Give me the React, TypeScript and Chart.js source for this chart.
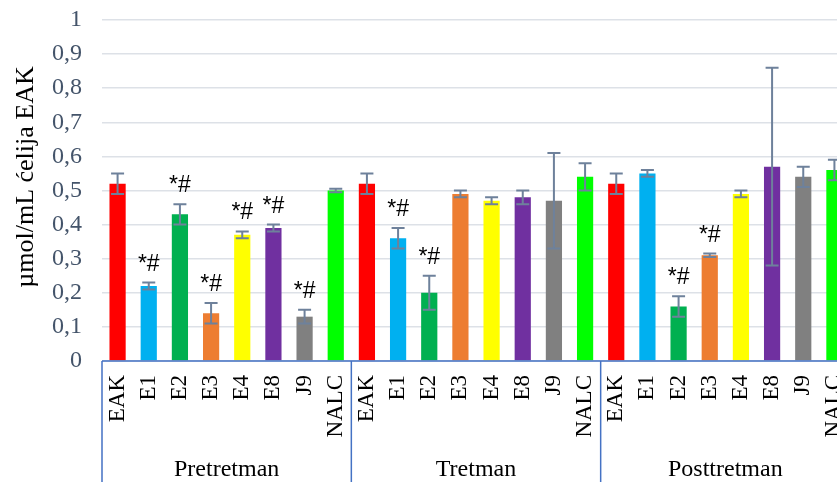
import { useEffect, useRef } from "react";
import { Chart, registerables } from "chart.js";

Chart.register(...registerables);

// Compounds measured in each phase
const categories = ["EAK", "E1", "E2", "E3", "E4", "E8", "J9", "NALC"];
const groups = ["Pretretman", "Tretman", "Posttretman"];
const barColors = ["#ff0000", "#00b0f0", "#00b050", "#ed7d31", "#ffff00", "#7030a0", "#808080", "#00ff00"];

// Mean values (µmol/mL ćelija EAK)
const pretretman = [0.52, 0.22, 0.43, 0.14, 0.37, 0.39, 0.13, 0.5];
const tretman = [0.52, 0.36, 0.2, 0.49, 0.47, 0.48, 0.47, 0.54];
const posttretman = [0.52, 0.55, 0.16, 0.31, 0.49, 0.57, 0.54, 0.56];

// Standard deviations
const pretretmanErr = [0.03, 0.01, 0.03, 0.03, 0.01, 0.01, 0.02, 0.005];
const tretmanErr = [0.03, 0.03, 0.05, 0.01, 0.01, 0.02, 0.14, 0.04];
const posttretmanErr = [0.03, 0.01, 0.03, 0.005, 0.01, 0.29, 0.03, 0.03];

// Significance markers (*# above the bar)
const pretretmanSig = [false, true, true, true, true, true, true, false];
const tretmanSig = [false, true, true, false, false, false, false, false];
const posttretmanSig = [false, false, true, true, false, false, false, false];

const yTitle = "µmol/mL ćelija EAK";
const sigText = "*#";

const labels = groups.flatMap(() => categories);
const values = [...pretretman, ...tretman, ...posttretman];
const errors = [...pretretmanErr, ...tretmanErr, ...posttretmanErr];
const sig = [...pretretmanSig, ...tretmanSig, ...posttretmanSig];
const colors = groups.flatMap(() => barColors);

const SERIF = "'Liberation Serif', 'Times New Roman', serif";
const SANS = "'Liberation Sans', Arial, sans-serif";

const overlay = {
  id: "overlay",
  afterDatasetsDraw(chart: any) {
    const ctx = chart.ctx;
    const y = chart.scales.y;
    const meta = chart.getDatasetMeta(0);
    ctx.save();
    ctx.strokeStyle = "#6e819b";
    ctx.lineWidth = 2;
    ctx.font = `23px ${SANS}`;
    ctx.fillStyle = "#000";
    ctx.textAlign = "center";
    ctx.textBaseline = "alphabetic";
    values.forEach((v, i) => {
      const bar = meta.data[i];
      const cx = bar.x;
      const top = y.getPixelForValue(v + errors[i]);
      const bot = y.getPixelForValue(v - errors[i]);
      const cap = 6.5;
      ctx.beginPath();
      ctx.moveTo(cx, top);
      ctx.lineTo(cx, bot);
      ctx.moveTo(cx - cap, top);
      ctx.lineTo(cx + cap, top);
      ctx.moveTo(cx - cap, bot);
      ctx.lineTo(cx + cap, bot);
      ctx.stroke();
      if (sig[i]) ctx.fillText(sigText, cx, top - 12);
    });
    ctx.restore();
  },
  afterDraw(chart: any) {
    const ctx = chart.ctx;
    const x = chart.scales.x;
    const area = chart.chartArea;
    const h = chart.height;
    ctx.save();
    // category axis line and group brackets
    ctx.strokeStyle = "#4472c4";
    ctx.lineWidth = 1.5;
    ctx.beginPath();
    ctx.moveTo(area.left, area.bottom);
    ctx.lineTo(area.right, area.bottom);
    const gw = (x.right - x.left) / groups.length;
    for (let k = 0; k <= groups.length; k++) {
      const gx = x.left + k * gw;
      ctx.moveTo(gx, area.bottom);
      ctx.lineTo(gx, h);
    }
    ctx.stroke();
    // group names
    ctx.fillStyle = "#000";
    ctx.font = `24px ${SERIF}`;
    ctx.textAlign = "center";
    ctx.textBaseline = "alphabetic";
    groups.forEach((g, k) => {
      ctx.fillText(g, x.left + (k + 0.5) * gw, 476);
    });
    // value axis title
    ctx.translate(26, 177);
    ctx.rotate(-Math.PI / 2);
    ctx.font = `26px ${SERIF}`;
    ctx.textBaseline = "middle";
    ctx.fillText(yTitle, 0, 0);
    ctx.restore();
  },
};

export default function App() {
  const ref = useRef<HTMLCanvasElement | null>(null);

  useEffect(() => {
    if (!ref.current) return;
    const chart = new Chart(ref.current, {
      type: "bar",
      data: {
        labels,
        datasets: [
          {
            data: values,
            backgroundColor: colors,
            borderWidth: 0,
            barPercentage: 0.52,
            categoryPercentage: 1,
          },
        ],
      },
      options: {
        animation: false,
        responsive: false,
        devicePixelRatio: 1,
        layout: { padding: { top: 20, right: 20, left: 0, bottom: 0 } },
        plugins: { legend: { display: false }, tooltip: { enabled: false } },
        scales: {
          x: {
            grid: { display: false, drawTicks: false },
            border: { display: false },
            ticks: {
              autoSkip: false,
              maxRotation: 90,
              minRotation: 90,
              padding: 14,
              color: "#000",
              font: { family: SERIF, size: 23 },
            },
            afterFit(scale: any) {
              scale.height = 121;
              scale.paddingLeft = 0;
              scale.paddingRight = 0;
            },
          },
          y: {
            min: 0,
            max: 1,
            grid: { color: "#dde1e7", lineWidth: 1.5, drawTicks: false },
            border: { display: false },
            ticks: {
              stepSize: 0.1,
              padding: 20,
              color: "#44546a",
              font: { family: SERIF, size: 24 },
              callback: (v: any) => {
                const n = Math.round(Number(v) * 10) / 10;
                return n === 0 || n === 1 ? String(n) : n.toFixed(1).replace(".", ",");
              },
            },
            afterFit(scale: any) {
              scale.width = 102;
              scale.paddingTop = 0;
              scale.paddingBottom = 0;
            },
          },
        },
      },
      plugins: [overlay],
    });
    return () => chart.destroy();
  }, []);

  return (
    <div style={{ position: "fixed", left: 0, top: 0, width: 837, height: 482, overflow: "hidden", background: "#fff" }}>
      <canvas ref={ref} width={870} height={482} style={{ display: "block" }} />
    </div>
  );
}
